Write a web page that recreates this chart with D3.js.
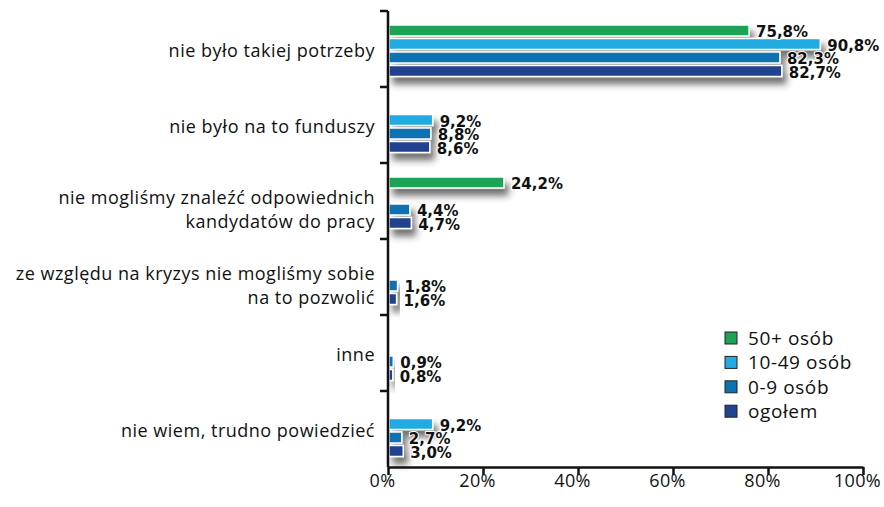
<!DOCTYPE html>
<html>
<head>
<meta charset="utf-8">
<script src="https://cdn.jsdelivr.net/npm/d3@7"></script>
<style>
  body { margin: 0; background: #fff; }
  svg { display: block; }
</style>
</head>
<body>
<div id="chart"></div>
<script>
const width = 884;
const height = 507;

// dane
const categories = [
  ["nie było takiej potrzeby"],
  ["nie było na to funduszy"],
  ["nie mogliśmy znaleźć odpowiednich", "kandydatów do pracy"],
  ["ze względu na kryzys nie mogliśmy sobie", "na to pozwolić"],
  ["inne"],
  ["nie wiem, trudno powiedzieć"]
];
const series = ["50+ osób", "10-49 osób", "0-9 osób", "ogołem"];
const values50 = [75.8, null, 24.2, null, null, null];
const values10 = [90.8, 9.2, null, null, null, 9.2];
const values0 = [82.3, 8.8, 4.4, 1.8, 0.9, 2.7];
const valuesAll = [82.7, 8.6, 4.7, 1.6, 0.8, 3.0];
const xTicks = [0, 20, 40, 60, 80, 100];
const colors = ["#1ca355", "#23abe1", "#0b72b4", "#23428f"];

const seriesValues = [values50, values10, values0, valuesAll];

const svg = d3.select("#chart").append("svg")
    .attr("width", width)
    .attr("height", height);

const defs = svg.append("defs");
const shadow = defs.append("filter")
    .attr("id", "shadow")
    .attr("x", "-10%").attr("y", "-20%")
    .attr("width", "130%").attr("height", "170%");
shadow.append("feDropShadow")
    .attr("dx", 4).attr("dy", 7)
    .attr("stdDeviation", 3.5)
    .attr("flood-color", "#333")
    .attr("flood-opacity", 0.7);

const x = d3.scaleLinear().domain([0, 100]).range([388, 863]);
const y = d3.scaleBand().domain(d3.range(categories.length)).range([11, 467]);
const inner = d3.scaleBand().domain(d3.range(series.length))
    .range([14, 65.5]).paddingInner(0.185);

// słupki
const groups = svg.append("g").selectAll("g")
    .data(categories)
    .join("g")
    .attr("transform", (d, i) => `translate(0,${y(i)})`);

groups.each(function(c, i) {
  const rows = seriesValues
      .map((vals, s) => ({s: s, v: vals[i]}))
      .filter(d => d.v !== null);
  const g = d3.select(this);
  g.append("g")
      .attr("filter", "url(#shadow)")
      .selectAll("rect")
      .data(rows)
      .join("rect")
      .attr("x", x(0) + 1)
      .attr("y", d => inner(d.s))
      .attr("width", d => x(d.v) - x(0))
      .attr("height", inner.bandwidth())
      .attr("fill", d => colors[d.s])
      .attr("stroke", "#fff")
      .attr("stroke-width", 1.5);

  g.append("g").selectAll("text")
      .data(rows)
      .join("text")
      .attr("x", d => x(d.v) + 8)
      .attr("y", d => inner(d.s) + inner.bandwidth() + 1)
      .attr("font-family", "DejaVu Sans")
      .attr("font-weight", "bold")
      .attr("font-size", "15px")
      .attr("fill", "#111")
      .attr("stroke", "#fff")
      .attr("stroke-width", 2)
      .attr("paint-order", "stroke")
      .text(d => d.v.toFixed(1).replace(".", ",") + "%");
});

// etykiety kategorii
const labels = svg.append("g")
    .attr("font-family", "Open Sans")
    .attr("font-size", "18px")
    .attr("letter-spacing", "0.5px")
    .attr("fill", "#111")
    .attr("text-anchor", "end");

categories.forEach((lines, i) => {
  const cy = y(i) + y.bandwidth() / 2;
  const t = labels.append("text")
      .attr("x", 375)
      .attr("y", lines.length > 1 ? cy + 3 : cy + 8);
  lines.forEach((line, j) => {
    t.append("tspan")
        .attr("x", 375)
        .attr("dy", j === 0 ? 0 : 24)
        .text(line);
  });
});

// oś pionowa
const yAxis = svg.append("g").attr("stroke", "#111").attr("stroke-width", 2.5);
yAxis.append("line")
    .attr("x1", x(0)).attr("x2", x(0))
    .attr("y1", y(0)).attr("y2", y.range()[1]);
yAxis.selectAll(".tk")
    .data(d3.range(categories.length))
    .join("line")
    .attr("x1", x(0) - 8).attr("x2", x(0))
    .attr("y1", d => y(d)).attr("y2", d => y(d));

// oś pozioma
const xAxis = svg.append("g")
    .attr("transform", `translate(0,${y.range()[1]})`)
    .call(d3.axisBottom(x).tickValues(xTicks).tickSize(8).tickSizeOuter(0)
        .tickFormat(d => d + "%"));
xAxis.select(".domain").attr("stroke", "#111").attr("stroke-width", 2.5);
xAxis.selectAll(".tick line").attr("stroke", "#111").attr("stroke-width", 2.5);
xAxis.selectAll(".tick text")
    .attr("font-family", "Open Sans")
    .attr("font-size", "18px")
    .attr("letter-spacing", "0.3px")
    .attr("fill", "#111")
    .attr("dx", -6)
    .attr("dy", 9);

// legenda
const legend = svg.append("g").attr("transform", "translate(725,332)");
const item = legend.selectAll("g")
    .data(series)
    .join("g")
    .attr("transform", (d, i) => `translate(0,${i * 24.4})`);
item.append("rect")
    .attr("width", 12).attr("height", 12)
    .attr("fill", (d, i) => colors[i])
    .attr("stroke", "#222")
    .attr("stroke-width", 1);
item.append("text")
    .attr("x", 23)
    .attr("y", 13)
    .attr("font-family", "Open Sans")
    .attr("font-size", "19px")
    .attr("letter-spacing", "0.6px")
    .attr("fill", "#111")
    .text(d => d);
</script>
</body>
</html>
